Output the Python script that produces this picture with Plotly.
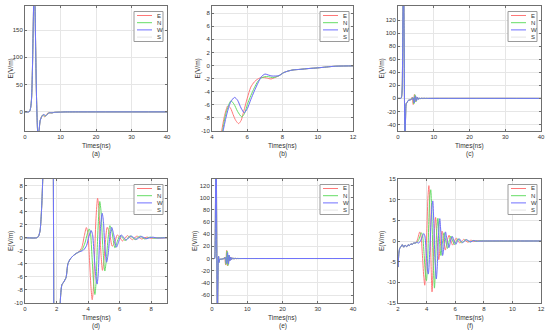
import plotly.graph_objects as go

# ---------------- data ----------------
# Dataset shown in panels (a) and (b)
A_T_PRE = [0, 1.0, 1.3, 1.6, 1.85, 2.1, 2.3, 2.5, 2.65, 2.8, 3.0, 3.2, 3.4, 3.55, 3.7, 3.85, 4.0, 4.15, 4.3]
A_Y_PRE = [0, 0, 1, 8, 25, 80, 150, 215, 230, 200, 120, 40, -10, -35, -45, -42, -32, -22, -15]
A_T_E = [4.4, 4.55, 4.7, 4.9, 5.05, 5.2, 5.35, 5.51, 5.65, 5.8, 6.0, 6.2, 6.4, 6.6, 6.85, 7.1, 7.35, 7.55, 7.8]
A_Y_E = [-12.5, -10, -7.8, -6.15, -6.5, -7.5, -8.4, -8.87, -8.4, -7.0, -5.0, -3.3, -2.5, -2.05, -1.8, -1.9, -2.05, -1.85, -1.55]
A_T_N = [4.45, 4.6, 4.8, 5.07, 5.25, 5.45, 5.69, 5.85, 6.0, 6.2, 6.4, 6.6, 6.8, 7.0, 7.2, 7.45, 7.8]
A_Y_N = [-12.8, -10, -7.2, -5.4, -5.9, -7.0, -7.85, -7.3, -6.0, -4.6, -3.4, -2.4, -1.9, -1.7, -1.7, -1.85, -1.55]
A_T_W = [4.45, 4.63, 4.85, 5.05, 5.28, 5.45, 5.65, 5.83, 6.0, 6.2, 6.4, 6.6, 6.8, 7.01, 7.2, 7.4, 7.6, 7.8]
A_Y_W = [-13, -10, -7.3, -5.6, -4.87, -5.3, -6.5, -7.2, -6.6, -5.2, -3.9, -2.7, -1.7, -1.3, -1.45, -1.6, -1.6, -1.55]
A_T_POST = [8.05, 8.3, 8.6, 9.0, 9.5, 10.0, 10.5, 11.0, 12.0, 15.0, 40.0]
A_Y_POST = [-1.1, -0.85, -0.67, -0.58, -0.45, -0.35, -0.22, -0.1, -0.05, 0, 0]

# Dataset shown in panels (c) and (d)
C_T_PRE = [0, 0.75, 0.85, 0.95, 1.02, 1.08, 1.13, 1.2, 1.3, 1.4, 1.5, 1.6, 1.7, 1.76, 1.81, 1.86,
           1.95, 2.05, 2.15, 2.23, 2.34, 2.45, 2.6, 2.72, 2.87, 3.08, 3.25]
C_Y_PRE = [0, 0, 0.2, 1.0, 3, 6, 9.5, 20, 70, 140, 185, 170, 100, 40, 0, -35,
           -60, -45, -22, -10, -7.2, -6.8, -6.1, -4.0, -3.25, -2.7, -2.4]
C_T_E = [3.4, 3.6, 3.75, 3.89, 3.98, 4.08, 4.18, 4.26, 4.33, 4.42, 4.5, 4.6, 4.68, 4.78, 4.91, 5.0,
         5.1, 5.21, 5.35, 5.53, 5.7, 5.85, 6.0, 6.17, 6.33, 6.49, 6.65, 6.8, 6.95, 7.1, 7.25, 7.4,
         7.6, 7.75, 8.0, 8.3, 8.6, 9.0, 40.0]
C_Y_E = [-2.2, -1.5, 0.2, 1.56, 0.8, -3, -7.5, -9.5, -8, -2, 3, 6.05, 4.5, -1, -5.0, -3.5,
         -0.5, 1.6, 0.8, -1.3, -0.6, 0.43, 0.1, -0.5, -0.1, 0.33, 0, -0.3, 0, 0.25, 0, -0.2,
         0, 0.1, -0.1, 0, -0.05, 0, 0]
C_T_N = [3.4, 3.6, 3.8, 3.95, 4.07, 4.15, 4.25, 4.35, 4.43, 4.5, 4.58, 4.65, 4.74, 4.82, 4.92, 5.06,
         5.15, 5.25, 5.38, 5.5, 5.7, 5.86, 6.02, 6.18, 6.34, 6.5, 6.66, 6.82, 6.98, 7.14, 7.3, 7.45,
         7.6, 7.8, 7.95, 8.2, 8.5, 9.0, 40.0]
C_Y_N = [-2.2, -1.9, -0.8, 0.6, 1.35, 0.7, -3, -7, -8.7, -7, -1.5, 2.5, 5.55, 4, -1, -5.1,
         -3.5, -0.5, 1.85, 1.0, -1.55, -0.5, 0.33, 0, -0.45, -0.1, 0.3, 0, -0.3, 0, 0.25, 0,
         -0.2, 0, 0.1, -0.1, 0, 0, 0]
C_T_W = [3.4, 3.7, 3.9, 4.05, 4.19, 4.28, 4.38, 4.48, 4.57, 4.64, 4.72, 4.8, 4.89, 4.97, 5.05, 5.17,
         5.27, 5.37, 5.49, 5.62, 5.79, 5.95, 6.1, 6.26, 6.42, 6.58, 6.74, 6.9, 7.06, 7.22, 7.38, 7.55,
         7.7, 7.9, 8.1, 8.4, 9.0, 40.0]
C_Y_W = [-2.2, -1.9, -1.2, 0.2, 1.1, 0.5, -2.5, -5.8, -7.1, -5.5, -1, 2, 3.75, 2.5, -1, -3.75,
         -2.5, 0, 1.6, 0.5, -1.45, -0.5, 0.43, 0, -0.35, 0, 0.25, 0, -0.25, 0, 0.2, 0,
         -0.15, 0, 0.08, -0.05, 0, 0]

# Dataset shown in panels (e) and (f)
E_T_PRE = [0, 0.7, 0.8, 0.88, 0.95, 1.02, 1.1, 1.18, 1.25, 1.32, 1.4, 1.48, 1.56, 1.64, 1.72, 1.8,
           1.87, 1.92, 1.96, 2.0, 2.06, 2.12, 2.2, 2.3, 2.4, 2.5, 2.6, 2.7, 2.8, 2.9, 3.0, 3.1, 3.2]
E_Y_PRE = [0, 0, 2, 15, 60, 120, 165, 175, 140, 60, -20, -80, -95, -60, -20, 2,
           3.5, 0, -4.5, -6.3, -3.0, -1.8, -1.4, -0.9, -1.5, -1.0, -1.4, -0.9, -1.1, -0.7, -0.8, -0.5, -0.5]
E_T_E = [3.3, 3.4, 3.52, 3.6, 3.7, 3.8, 3.87, 3.94, 4.02, 4.1, 4.16, 4.22, 4.3, 4.38, 4.45, 4.54,
         4.63, 4.72, 4.85, 4.96, 5.08, 5.2, 5.31, 5.44, 5.57, 5.7, 5.82, 5.95, 6.07, 6.2, 6.33, 6.46,
         6.6, 6.75, 6.9, 7.1, 7.3, 7.5, 7.8, 12.0, 40.0]
E_Y_E = [-0.2, 0.8, 2.2, 1.5, -3, -8.5, -10.7, -6, 3, 11, 13.4, 8, -4, -12.3, -7, 2,
         5.7, 1, -4.5, -1, 2.4, 0, -2.2, 0, 1.4, 0, -1.0, 0, 0.7, 0, -0.5, 0,
         0.4, 0, -0.3, 0.2, -0.15, 0.1, 0, 0, 0]
E_T_N = [3.3, 3.45, 3.64, 3.72, 3.82, 3.92, 3.99, 4.07, 4.15, 4.23, 4.29, 4.36, 4.45, 4.55, 4.62, 4.7,
         4.79, 4.88, 5.0, 5.1, 5.22, 5.34, 5.46, 5.58, 5.7, 5.83, 5.95, 6.08, 6.2, 6.33, 6.46, 6.6,
         6.74, 6.9, 7.05, 7.25, 7.45, 7.7, 8.0, 12.0, 40.0]
E_Y_N = [-0.4, 0.3, 2.0, 1.3, -3, -8, -9.6, -5, 4, 11, 12.4, 7, -4, -11.4, -6, 2,
         5.5, 1, -3.5, -0.5, 2.0, 0, -1.8, 0, 1.2, 0, -0.9, 0, 0.6, 0, -0.45, 0,
         0.35, 0, -0.25, 0.15, -0.1, 0.05, 0, 0, 0]
E_T_W = [3.3, 3.45, 3.6, 3.8, 3.88, 3.97, 4.06, 4.12, 4.2, 4.3, 4.38, 4.43, 4.5, 4.58, 4.68, 4.76,
         4.84, 4.92, 5.0, 5.12, 5.22, 5.32, 5.44, 5.56, 5.68, 5.8, 5.92, 6.04, 6.16, 6.28, 6.4, 6.53,
         6.66, 6.8, 6.95, 7.1, 7.3, 7.55, 8.0, 12.0, 40.0]
E_Y_W = [-0.3, -0.5, 0.2, 1.8, 1.2, -2.5, -7, -8.0, -4, 4, 8.5, 9.7, 5, -4, -9.2, -5,
         2, 5.4, 2, -3.5, -1, 2.2, 0, -1.6, 0, 1.1, 0, -0.8, 0, 0.55, 0, -0.4,
         0, 0.3, 0, -0.2, 0.1, -0.05, 0, 0, 0]

SERIES_NAMES = ["E", "N", "W", "S"]
SERIES_COLORS = {"E": "#ff7878", "N": "#66dd66", "W": "#7070ff", "S": "#e4e4e4"}

# tick values
TICKS_0_40 = [0, 10, 20, 30, 40]
A_YTICKS = [0, 50, 100, 150]
B_XTICKS = [4, 6, 8, 10, 12]
B_YTICKS = [-10, -8, -6, -4, -2, 0, 2, 4, 6, 8]
C_YTICKS = [-40, -20, 0, 20, 40, 60, 80, 100, 120]
D_XTICKS = [0, 2, 4, 6, 8]
E_YTICKS = [-60, -40, -20, 0, 20, 40, 60, 80, 100, 120]
F_XTICKS = [2, 4, 6, 8, 10, 12]
F_YTICKS = [-15, -10, -5, 0, 5, 10, 15]

CAPTIONS = ["(a)", "(b)", "(c)", "(d)", "(e)", "(f)"]
X_TITLE = "Times(ns)"
Y_TITLE = "E(V/m)"


def series(pre_t, pre_y, t, y, post_t=None, post_y=None):
    tt = list(pre_t) + list(t)
    yy = list(pre_y) + list(y)
    if post_t:
        tt += list(post_t)
        yy += list(post_y)
    return tt, yy


DATA = {
    "A": {
        "E": series(A_T_PRE, A_Y_PRE, A_T_E, A_Y_E, A_T_POST, A_Y_POST),
        "N": series(A_T_PRE, A_Y_PRE, A_T_N, A_Y_N, A_T_POST, A_Y_POST),
        "W": series(A_T_PRE, A_Y_PRE, A_T_W, A_Y_W, A_T_POST, A_Y_POST),
    },
    "C": {
        "E": series(C_T_PRE, C_Y_PRE, C_T_E, C_Y_E),
        "N": series(C_T_PRE, C_Y_PRE, C_T_N, C_Y_N),
        "W": series(C_T_PRE, C_Y_PRE, C_T_W, C_Y_W),
    },
    "E": {
        "E": series(E_T_PRE, E_Y_PRE, E_T_E, E_Y_E),
        "N": series(E_T_PRE, E_Y_PRE, E_T_N, E_Y_N),
        "W": series(E_T_PRE, E_Y_PRE, E_T_W, E_Y_W),
    },
}
for k in DATA:
    DATA[k]["S"] = DATA[k]["W"]

# ---------------- layout geometry ----------------
W, H = 550, 334
COLS_PX = [(25, 167), (212, 353), (398, 541)]
ROWS_PX = [(6, 131), (179, 303)]

PANELS = [
    dict(ds="A", xr=[0, 40], yr=[-35, 194], xt=TICKS_0_40, yt=A_YTICKS, ylab=-15),
    dict(ds="A", xr=[4, 12], yr=[-10, 9.1], xt=B_XTICKS, yt=B_YTICKS, ylab=-15),
    dict(ds="C", xr=[0, 40], yr=[-50, 141.5], xt=TICKS_0_40, yt=C_YTICKS, ylab=-17),
    dict(ds="C", xr=[0, 9], yr=[-10, 9], xt=D_XTICKS, yt=B_YTICKS, ylab=-14),
    dict(ds="E", xr=[0, 40], yr=[-73, 130.5], xt=TICKS_0_40, yt=E_YTICKS, ylab=-17),
    dict(ds="E", xr=[2, 12], yr=[-15, 15], xt=F_XTICKS, yt=F_YTICKS, ylab=-16),
]

FONT = "Liberation Sans, Arial, Helvetica, sans-serif"
TXT = "#333333"
AXC = "#6f6f6f"

fig = go.Figure()
layout = dict(
    width=W, height=H, margin=dict(l=0, r=0, t=0, b=0),
    paper_bgcolor="white", plot_bgcolor="white", showlegend=False,
    font=dict(family=FONT, size=6, color=TXT),
)
shapes, annotations = [], []

for i, p in enumerate(PANELS):
    n = i + 1
    row, col = divmod(i, 3)
    x0, x1 = COLS_PX[col]
    yt, yb = ROWS_PX[row]
    xa = "xaxis" if n == 1 else f"xaxis{n}"
    ya = "yaxis" if n == 1 else f"yaxis{n}"
    xref = "x" if n == 1 else f"x{n}"
    yref = "y" if n == 1 else f"y{n}"
    common = dict(showline=True, linecolor=AXC, linewidth=1, mirror="ticks",
                  ticks="inside", ticklen=2, tickcolor=AXC, tickwidth=1,
                  showgrid=True, gridcolor="#e6e6e6", gridwidth=1, zeroline=False,
                  tickfont=dict(family=FONT, size=6, color=TXT), automargin=False)
    layout[xa] = dict(domain=[x0 / W, x1 / W], range=p["xr"], anchor=yref,
                      tickvals=p["xt"], ticktext=[str(v) for v in p["xt"]], **common)
    layout[ya] = dict(domain=[1 - yb / H, 1 - yt / H], range=p["yr"], anchor=xref,
                      tickvals=p["yt"], ticktext=[str(v) for v in p["yt"]], **common)

    ds = DATA[p["ds"]]
    for name in ["S", "E", "N", "W"]:
        tt, yy = ds[name]
        fig.add_trace(go.Scatter(x=tt, y=yy, mode="lines", name=name,
                                 line=dict(color=SERIES_COLORS[name], width=1,
                                           shape="spline", smoothing=0.7),
                                 xaxis=xref, yaxis=yref, showlegend=False,
                                 hoverinfo="skip"))

    dref_x = f"{xref} domain"
    dref_y = f"{yref} domain"
    # titles / captions
    annotations.append(dict(text=X_TITLE, xref=dref_x, yref=dref_y, x=0.5, y=0,
                            yshift=-14.5, showarrow=False, xanchor="center", yanchor="middle",
                            font=dict(family=FONT, size=6.5, color=TXT)))
    annotations.append(dict(text=CAPTIONS[i], xref=dref_x, yref=dref_y, x=0.5, y=0,
                            yshift=-23.3, showarrow=False, xanchor="center", yanchor="middle",
                            font=dict(family=FONT, size=6.5, color=TXT)))
    annotations.append(dict(text=Y_TITLE, xref=dref_x, yref=dref_y, x=0, y=0.5,
                            xshift=p["ylab"], showarrow=False, textangle=-90,
                            xanchor="center", yanchor="middle",
                            font=dict(family=FONT, size=6.5, color=TXT)))
    # legend box
    shapes.append(dict(type="rect", xref=dref_x, yref=dref_y, xsizemode="pixel", ysizemode="pixel",
                       xanchor=1, yanchor=1, x0=-33, x1=-4, y0=-5.5, y1=-35.5,
                       line=dict(color="#9a9a9a", width=1), fillcolor="white", layer="above"))
    for k, name in enumerate(SERIES_NAMES):
        off = -(9.5 + 7.2 * k)
        shapes.append(dict(type="line", xref=dref_x, yref=dref_y, xsizemode="pixel", ysizemode="pixel",
                           xanchor=1, yanchor=1, x0=-30, x1=-15, y0=off, y1=off,
                           line=dict(color=SERIES_COLORS[name], width=1), layer="above"))
        annotations.append(dict(text=name, xref=dref_x, yref=dref_y, x=1, y=1,
                                xshift=-12.5, yshift=off, showarrow=False,
                                xanchor="left", yanchor="middle",
                                font=dict(family=FONT, size=6, color=TXT)))

layout["shapes"] = shapes
layout["annotations"] = annotations
fig.update_layout(**layout)
fig.write_html(
    "out.html",
    config={"displayModeBar": False, "staticPlot": True},
    post_script="document.body.style.margin='0';document.body.style.padding='0';"
                "document.body.style.overflow='hidden';",
)
